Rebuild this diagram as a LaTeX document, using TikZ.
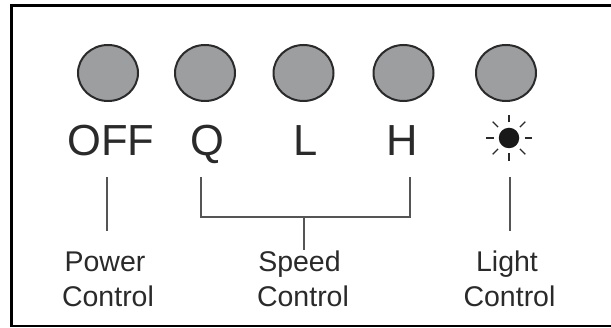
\documentclass[tikz,border=0pt]{standalone}
\usepackage{fontspec}
\setmainfont{Liberation Sans}
\usetikzlibrary{shapes.geometric,calc}
\definecolor{btn}{HTML}{9C9EA0}
\definecolor{ink}{HTML}{2A2A2A}
\definecolor{wire}{HTML}{555555}
\tikzset{
  btnshape/.style={draw=ink,fill=btn,line width=2pt,ellipse,minimum width=60pt,minimum height=56pt,inner sep=0pt},
  biglabel/.style={text=ink,font=\fontsize{43.5}{43.5}\selectfont,inner sep=0pt,anchor=base},
  smalllabel/.style={text=ink,font=\fontsize{28.5}{28.5}\selectfont,inner sep=0pt,anchor=base},
  wireline/.style={draw=wire,line width=1.5pt},
  ray/.style={draw=ink,line width=1.4pt}
}
\begin{document}
\begin{tikzpicture}[x=1pt,y=-1pt]
\useasboundingbox (0,0) rectangle (611,328);
\draw[black,line width=3pt] (611,6) -- (11.5,6) -- (11.5,326);
\draw[black,line width=2pt] (10,326) -- (611,326);
\node[btnshape] (b1) at (108,73) {};
\node[btnshape] (b2) at (205,73) {};
\node[btnshape] (b3) at (303.5,73) {};
\node[btnshape] (b4) at (403.5,73) {};
\node[btnshape] (b5) at (506,73) {};
\node[biglabel] (off) at (111,156) {OFF};
\node[biglabel] (q) at (207.5,156) {Q};
\node[biglabel] (l) at (306,156) {L};
\node[biglabel] (h) at (402,156) {H};
\node[circle,fill=black!90,minimum size=20.5pt,inner sep=0pt] (sun) at (509,138) {};
\foreach \a in {0,45,...,315}{\draw[ray] ($(sun)+(\a:15.5)$) -- ($(sun)+(\a:23)$);}
\node[smalllabel] (p1) at (105,272) {Power};
\node[smalllabel] (p2) at (108,307) {Control};
\node[smalllabel] (s1) at (299.5,272) {Speed};
\node[smalllabel] (s2) at (303,307) {Control};
\node[smalllabel] (g1) at (507,272) {Light};
\node[smalllabel] (g2) at (509.5,307) {Control};
\coordinate (pt) at (107,177); \coordinate (pb) at (107,231);
\coordinate (qt) at (201,177); \coordinate (qb) at (201,217);
\coordinate (ht) at (410,177); \coordinate (hb) at (410,217);
\coordinate (st) at (304,217); \coordinate (sb) at (304,250);
\coordinate (gt) at (510,177); \coordinate (gb) at (510,231);
\draw[wireline] (pt) -- (pb);
\draw[wireline] (qt) -- (qb) -- (hb) -- (ht);
\draw[wireline] (st) -- (sb);
\draw[wireline] (gt) -- (gb);
\end{tikzpicture}
\end{document}
